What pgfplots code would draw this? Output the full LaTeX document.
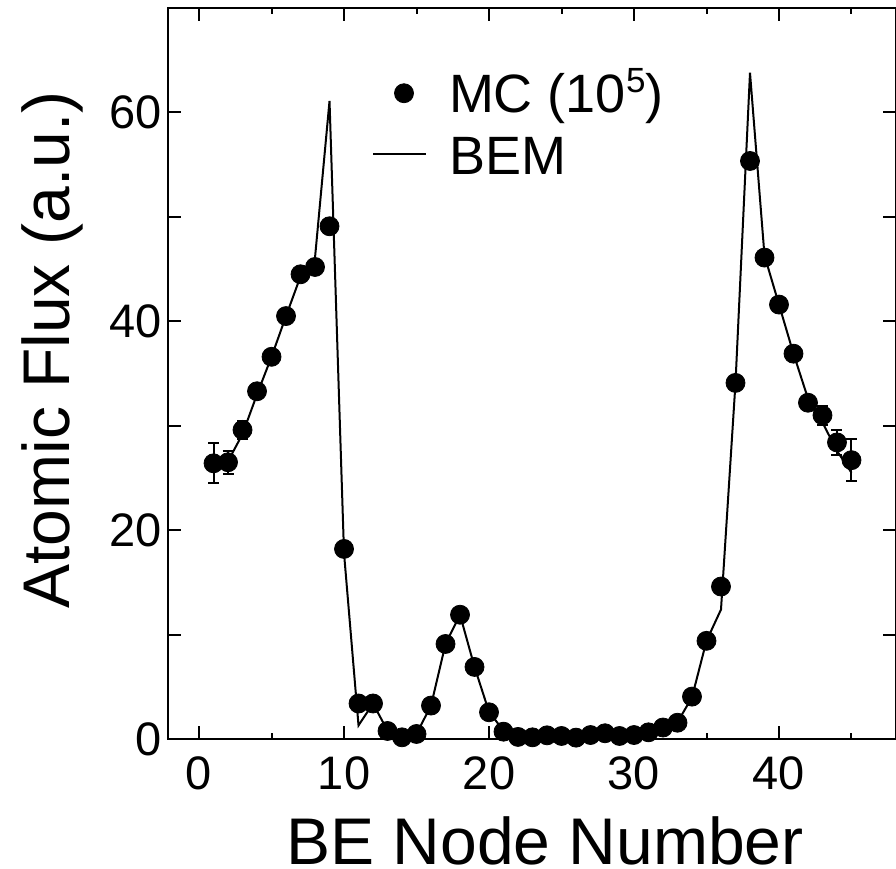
\documentclass[border=0pt]{standalone}
\usepackage{pgfplots}
\pgfplotsset{compat=1.18}
\usepackage{fontspec}
\setmainfont{Liberation Sans}
\pgfplotsset{
  mcleg/.style={legend image code/.code={\draw[mark repeat=2,mark phase=2,##1] plot coordinates {(0pt,2.5pt) (15.5pt,2.5pt) (31pt,2.5pt)};}},
  bemleg/.style={legend image code/.code={\draw[##1] (0pt,3pt) -- (26.5pt,3pt);}}
}
\begin{document}
\begin{tikzpicture}
\path[use as bounding box] (-84pt,-65pt) rectangle (364pt,369.5pt);
\begin{axis}[
  at={(0pt,0pt)}, anchor=south west,
  scale only axis, width=364pt, height=365.5pt,
  xmin=-2.14, xmax=48.07, ymin=0, ymax=70,
  axis line style={line width=1pt},
  every tick/.style={black, line width=1pt},
  tick align=inside,
  major tick length=6.5pt, minor tick length=3pt,
  xtick={0,10,20,30,40}, minor xtick={5,15,25,35,45},
  ytick={0,10,20,30,40,50,60}, yticklabels={0,,20,,40,,60},
  /pgf/number format/assume math mode=true,
  tick label style={font=\fontsize{23.5}{28}\selectfont},
  xticklabel style={inner sep=0pt, yshift=-8.5pt},
  yticklabel style={inner sep=0pt, xshift=-3pt},
  xlabel={BE Node Number},
  ylabel={Atomic Flux (a.u.)},
  label style={font=\fontsize{33}{40}\selectfont},
  xlabel style={at={(axis description cs:0.518,-0.139)}, anchor=center, inner sep=0pt},
  ylabel style={at={(axis description cs:-0.159,0.532)}, anchor=center, inner sep=0pt, rotate=0},
  clip=false,
  legend style={draw=none, fill=none, inner sep=0pt, outer sep=0pt,
    at={(axis cs:11.93,63.85)}, anchor=north west,
    font=\fontsize{27}{32}\selectfont,
    nodes={inner sep=0pt, text height=20pt, text depth=6pt},
    row sep=5pt, column sep=11pt},
  legend cell align=left,
]
\addplot[only marks, mark=*, mark size=4.75pt, black, mcleg,
  error bars/.cd, y dir=both, y explicit,
  error mark options={rotate=90, mark size=2.75pt, line width=1pt},
  error bar style={line width=1pt}]
  table[x=x, y=y, y error=e] {
x y e
1 26.4 1.9
2 26.5 1.1
3 29.6 0.85
4 33.3 0.6
5 36.6 0.6
6 40.5 0.6
7 44.5 0.6
8 45.2 0.6
9 49.1 0.6
10 18.2 0.5
11 3.4 0.3
12 3.4 0.3
13 0.77 0.2
14 0.16 0.1
15 0.48 0.1
16 3.2 0.3
17 9.1 0.4
18 11.9 0.5
19 6.9 0.4
20 2.56 0.3
21 0.7 0.1
22 0.2 0.1
23 0.16 0.1
24 0.35 0.1
25 0.29 0.1
26 0.13 0.1
27 0.38 0.1
28 0.55 0.1
29 0.29 0.1
30 0.38 0.1
31 0.64 0.1
32 1.1 0.2
33 1.56 0.2
34 4.06 0.3
35 9.4 0.4
36 14.6 0.5
37 34.1 0.6
38 55.35 0.6
39 46.1 0.6
40 41.6 0.6
41 36.9 0.6
42 32.2 0.6
43 31.0 0.9
44 28.4 1.2
45 26.7 2.0
};
\addlegendentry{MC (10\raisebox{10pt}{\fontsize{17.5}{18}\selectfont 5})}
\addplot[black, line width=1pt, no marks, bemleg] table {
1 26.3
2 26.6
3 29.2
4 33.0
5 36.6
6 40.5
7 44.3
8 46.1
9 61.1
10 17.8
11 1.3
12 3.4
13 0.8
14 0.2
15 0.5
16 3.2
17 9.1
18 11.9
19 6.9
20 2.6
21 0.8
22 0.3
23 0.2
24 0.3
25 0.3
26 0.2
27 0.3
28 0.5
29 0.3
30 0.4
31 0.6
32 1.1
33 1.6
34 4.0
35 9.4
36 12.4
37 34.1
38 63.8
39 46.3
40 41.6
41 36.9
42 32.6
43 30.3
44 27.6
45 25.5
};
\addlegendentry{BEM}
\end{axis}
\end{tikzpicture}
\end{document}
